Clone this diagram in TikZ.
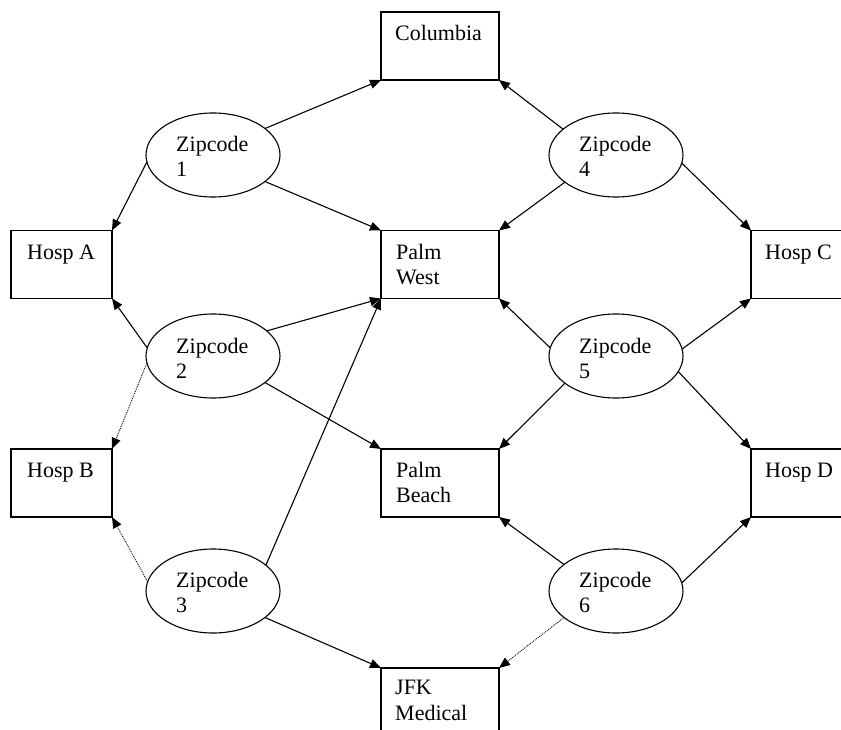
\documentclass[tikz,border=0pt]{standalone}
\usepackage{fontspec}
\setmainfont{Liberation Serif}
\usetikzlibrary{arrows.meta,shapes.geometric}
\begin{document}
\begin{tikzpicture}[x=1pt,y=-1pt,
  box/.style={draw,line width=1.1pt,minimum width=118pt,minimum height=68pt,inner sep=0pt,outer sep=0pt},
  hbox/.style={box,minimum width=101pt},
  zip/.style={draw,line width=1.1pt,ellipse,minimum width=134pt,minimum height=84pt,inner sep=0pt,outer sep=0pt},
  txt/.style={anchor=base west,inner sep=0pt,font=\fontsize{22}{25}\selectfont},
  conn/.style={line width=1.1pt,-{Triangle[length=11pt,width=9pt]}},
  dconn/.style={line width=0.9pt,densely dotted,-{Triangle[length=11pt,width=9pt]}}
]
\useasboundingbox (0,0) rectangle (841,730);
\clip (0,0) rectangle (841,730);
\fill[white] (0,0) rectangle (841,730);

% boxes
\node[box]  (col) at (440,46) {};
\node[hbox] (ha)  at (61.5,264.5) {};
\node[box]  (pw)  at (440,264.5) {};
\node[hbox] (hc)  at (801.5,264.5) {};
\node[hbox] (hb)  at (61.5,483) {};
\node[box]  (pb)  at (440,483) {};
\node[hbox] (hd)  at (801.5,483) {};
\node[box]  (jfk) at (440,702) {};

% ellipses
\node[zip] (z1) at (213,155) {};
\node[zip] (z2) at (213,356) {};
\node[zip] (z3) at (213,591) {};
\node[zip] (z4) at (616,155) {};
\node[zip] (z5) at (616,356) {};
\node[zip] (z6) at (616,591) {};

% texts
\node[txt] (tcol) at (395,41) {Columbia};
\node[txt] (tha) at (27,259) {Hosp A};
\node[txt] (tpw1) at (396,259) {Palm};
\node[txt] (tpw2) at (396,284) {West};
\node[txt] (thc) at (765,259) {Hosp C};
\node[txt] (thb) at (27,477) {Hosp B};
\node[txt] (tpb1) at (396,477) {Palm};
\node[txt] (tpb2) at (396,502) {Beach};
\node[txt] (thd) at (765,477) {Hosp D};
\node[txt] (tj1) at (395,694) {JFK};
\node[txt] (tj2) at (395,720) {Medical};
\node[txt] (tz1a) at (176,152) {Zipcode};
\node[txt] (tz1b) at (176,177) {1};
\node[txt] (tz2a) at (176,353) {Zipcode};
\node[txt] (tz2b) at (176,378) {2};
\node[txt] (tz3a) at (176,587) {Zipcode};
\node[txt] (tz3b) at (176,612) {3};
\node[txt] (tz4a) at (579,152) {Zipcode};
\node[txt] (tz4b) at (579,177) {4};
\node[txt] (tz5a) at (579,353) {Zipcode};
\node[txt] (tz5b) at (579,378) {5};
\node[txt] (tz6a) at (579,587) {Zipcode};
\node[txt] (tz6b) at (579,612) {6};

% connectors
\draw[conn] (z1.27) -- (col.south west);
\draw[conn] (z1.186) -- (ha.north east);
\draw[conn] (z1.-27) -- (pw.north west);
\draw[conn] (z4.154) -- (col.south east);
\draw[conn] (z4.208) -- (pw.north east);
\draw[conn] (z4.-7) -- (hc.north west);
\draw[conn] (z2.173) -- (ha.south east);
\draw[dconn] (z2.186) -- (hb.north east);
\draw[conn] (z2.25) -- (pw.south west);
\draw[conn] (z2.-27) -- (pb.north west);
\draw[conn] (z3.26) -- (pw.south west);
\draw[dconn] (z3.172) -- (hb.south east);
\draw[conn] (z3.-27) -- (jfk.north west);
\draw[conn] (z5.173) -- (pw.south east);
\draw[conn] (z5.208) -- (pb.north east);
\draw[conn] (z5.6) -- (hc.south west);
\draw[conn] (z5.-14) -- (hd.north west);
\draw[conn] (z6.153) -- (pb.south east);
\draw[conn] (z6.7) -- (hd.south west);
\draw[dconn] (z6.207) -- (jfk.north east);
\end{tikzpicture}
\end{document}
